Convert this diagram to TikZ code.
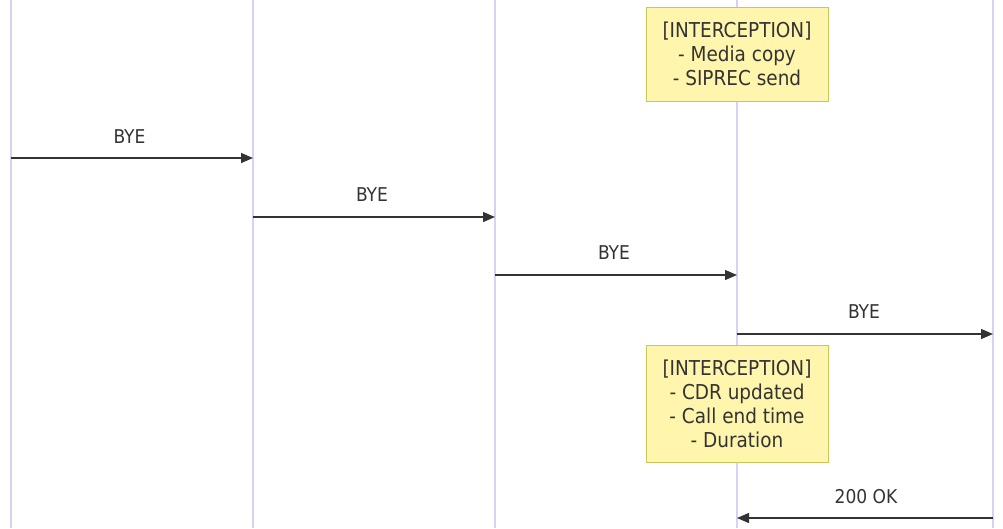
\documentclass[tikz,border=0pt]{standalone}
\usepackage{fontspec}
\setmainfont{DejaVu Sans Condensed}
\usetikzlibrary{arrows.meta}
\definecolor{lifeC}{RGB}{218,208,242}
\definecolor{noteFill}{RGB}{255,245,173}
\definecolor{noteDraw}{RGB}{200,200,90}
\definecolor{msgC}{RGB}{51,51,51}
\tikzset{
  lifeline/.style={draw=lifeC, line width=1.5pt},
  msg/.style={draw=msgC, line width=1.3pt, -{Triangle[length=12pt,width=10pt]}},
  msglabel/.style={font=\fontsize{19}{22}\selectfont, text=msgC, inner sep=0pt},
  notebox/.style={draw=noteDraw, fill=noteFill, line width=0.8pt, align=center,
    font=\fontsize{20.5}{24}\selectfont, text=msgC, minimum width=182pt, inner sep=0pt}
}
\begin{document}
\begin{tikzpicture}[x=1pt,y=-1pt]
\useasboundingbox (0,0) rectangle (1003,528);
% lifelines
\foreach \n/\x in {A/11,B/253,C/495,D/737,E/993}{
  \coordinate (\n top) at (\x,0);
  \coordinate (\n bot) at (\x,528);
  \draw[lifeline] (\n top) -- (\n bot);
}
% message endpoints
\coordinate (m1s) at (11,158);  \coordinate (m1e) at (253,158);
\coordinate (m2s) at (253,217); \coordinate (m2e) at (495,217);
\coordinate (m3s) at (495,275); \coordinate (m3e) at (737,275);
\coordinate (m4s) at (737,334); \coordinate (m4e) at (993,334);
\coordinate (m5s) at (993,518); \coordinate (m5e) at (737,518);
% notes
\node[notebox, minimum height=94pt] (note1) at (737,54)
  {[INTERCEPTION]\\- Media copy\\- SIPREC send};
\node[notebox, minimum height=117pt] (note2) at (737,403.5)
  {[INTERCEPTION]\\- CDR updated\\- Call end time\\- Duration};
% messages
\draw[msg] (m1s) -- (m1e);
\node[msglabel] (l1) at (129.5,137) {BYE};
\draw[msg] (m2s) -- (m2e);
\node[msglabel] (l2) at (372,195) {BYE};
\draw[msg] (m3s) -- (m3e);
\node[msglabel] (l3) at (614,253) {BYE};
\draw[msg] (m4s) -- (m4e);
\node[msglabel] (l4) at (864,312) {BYE};
\draw[msg] (m5s) -- (m5e);
\node[msglabel] (l5) at (866,497) {200 OK};
\end{tikzpicture}
\end{document}
